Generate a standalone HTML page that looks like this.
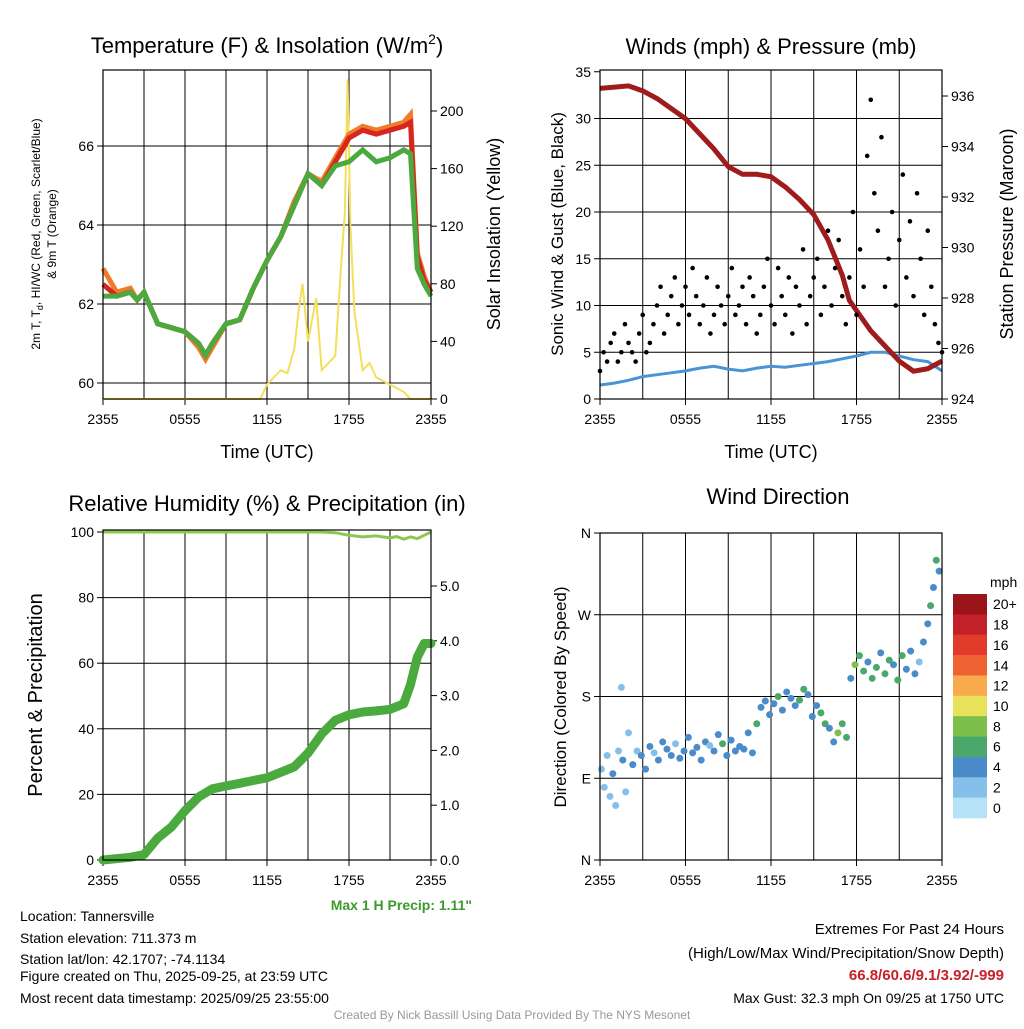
<!DOCTYPE html>
<html><head><meta charset="utf-8"><style>
body{margin:0;background:#fff}
svg text{font-family:"Liberation Sans",Arial,sans-serif;fill:#000}
</style></head><body>
<svg id="c" width="1024" height="1024" viewBox="0 0 1024 1024" xmlns="http://www.w3.org/2000/svg">
<g id="g1"></g>
<g id="g2"></g>
<g id="g3"></g>
<g id="g4"></g>
<g font-size="14">
<text x="20" y="921">Location: Tannersville</text>
<text x="20" y="943">Station elevation: 711.373 m</text>
<text x="20" y="964">Station lat/lon: 42.1707; -74.1134</text>
<text x="20" y="981">Figure created on Thu, 2025-09-25, at 23:59 UTC</text>
<text x="20" y="1003">Most recent data timestamp: 2025/09/25 23:55:00</text>
<text x="472" y="910" text-anchor="end" font-weight="bold" style="fill:#3a9a2a">Max 1 H Precip: 1.11"</text>
<text x="1004" y="934" text-anchor="end" font-size="15">Extremes For Past 24 Hours</text>
<text x="1004" y="958" text-anchor="end" font-size="15">(High/Low/Max Wind/Precipitation/Snow Depth)</text>
<text x="1004" y="980" text-anchor="end" font-size="15" font-weight="bold" style="fill:#c8202a">66.8/60.6/9.1/3.92/-999</text>
<text x="1004" y="1003" text-anchor="end">Max Gust: 32.3 mph On 09/25 at 1750 UTC</text>
<text x="512" y="1019" text-anchor="middle" font-size="12" style="fill:#999">Created By Nick Bassill Using Data Provided By The NYS Mesonet</text>
</g>
</svg>
<script>
// ---- data ----
const xTickLabels=["2355","0555","1155","1755","2355"];
const tempHours=[0,1,2,2.5,3,4,5,6,7,7.5,8,9,10,11,12,13,14,15,16,17,18,19,20,21,22,22.5,23,23.5,24];
const dewT=[62.2,62.2,62.3,62.1,62.3,61.5,61.4,61.3,61.0,60.7,61.0,61.5,61.6,62.4,63.1,63.7,64.5,65.3,65.0,65.5,65.6,65.9,65.6,65.7,65.9,65.8,62.9,62.5,62.2];
const airT=[62.5,62.2,62.3,62.1,62.3,61.5,61.4,61.3,61.0,60.7,61.0,61.5,61.6,62.4,63.1,63.7,64.5,65.3,65.0,65.6,66.2,66.4,66.3,66.4,66.5,66.6,63.2,62.6,62.3];
const t9m=[62.9,62.3,62.4,62.1,62.3,61.5,61.4,61.3,60.9,60.6,60.9,61.5,61.6,62.4,63.1,63.7,64.6,65.3,65.1,65.7,66.3,66.5,66.4,66.5,66.6,66.8,63.3,62.7,62.3];
const solarHours=[0,11.5,12,12.5,13,13.5,14,14.3,14.6,15,15.3,15.6,16,16.5,17,17.4,17.7,17.9,18.1,18.4,19,19.5,20,21,22,22.5,23,24];
const solarVals=[0,0,10,15,20,18,35,60,80,40,55,70,20,25,30,90,130,222,120,60,20,25,15,10,5,0,0,0];
const presHours=[0,2,3,4,5,6,7,8,9,10,11,12,13,14,15,16,17,17.5,18,19,20,21,22,23,24];
const presVals=[936.3,936.4,936.2,935.9,935.5,935.1,934.5,933.9,933.2,932.9,932.9,932.8,932.4,931.9,931.3,930.3,928.9,927.9,927.5,926.7,926.1,925.5,925.1,925.2,925.5];
const windHours=[0,1,2,3,4,5,6,7,8,9,10,11,12,13,14,15,16,17,18,19,20,21,22,23,24];
const windVals=[1.5,1.7,2.0,2.4,2.6,2.8,3.0,3.3,3.5,3.2,3.0,3.3,3.5,3.4,3.6,3.8,4.0,4.3,4.6,5.0,5.0,4.6,4.2,4.0,3.0];
const gustVals=[3,5,4,6,7,4,5,8,6,5,4,7,9,5,6,8,10,12,7,9,11,13,8,10,12,9,14,11,8,10,13,7,9,12,10,8,11,14,9,10,12,8,13,11,7,9,12,15,10,8,14,11,9,13,7,12,10,16,8,11,13,15,9,12,18,10,14,17,11,8,13,20,9,16,12,26,32,22,18,28,12,15,20,10,17,24,13,19,11,22,15,9,18,12,8,6,5];
const rhHours=[0,4,8,12,16,17,18,19,20,21,21.5,22,22.5,23,23.5,24];
const rhVals=[100,100,100,100,100,99.8,99,98.5,98.8,98.2,98.6,97.8,98.5,98,99,100];
const precipHours=[0,2,3,4,5,6,7,8,9,10,11,12,13,14,15,16,17,18,19,20,21,22,22.5,23,23.5,24];
const precipVals=[0,0.05,0.1,0.4,0.6,0.9,1.15,1.3,1.35,1.4,1.45,1.5,1.6,1.7,1.95,2.3,2.55,2.65,2.7,2.72,2.75,2.85,3.2,3.7,3.95,3.95];
const dirHours=[0.1,0.3,0.5,0.7,0.9,1.1,1.3,1.5,1.6,1.8,2.0,2.3,2.6,2.9,3.2,3.5,3.8,4.1,4.4,4.7,5.0,5.3,5.6,5.9,6.2,6.5,6.8,7.1,7.4,7.7,8.0,8.3,8.6,8.9,9.2,9.5,9.8,10.1,10.4,10.7,11.0,11.3,11.6,11.9,12.2,12.5,12.8,13.1,13.4,13.7,14.0,14.3,14.6,14.9,15.2,15.5,15.8,16.1,16.4,16.7,17.0,17.3,17.6,17.9,18.2,18.5,18.8,19.1,19.4,19.7,20.0,20.3,20.6,20.9,21.2,21.5,21.8,22.1,22.4,22.7,23.0,23.2,23.4,23.6,23.8];
const dirDeg=[100,80,115,70,95,60,120,190,110,75,140,105,120,115,100,125,118,110,130,122,115,128,112,120,135,118,124,110,130,126,120,138,128,115,132,120,125,122,140,118,150,168,175,160,172,180,165,185,178,170,176,188,182,158,170,162,150,145,130,140,150,135,200,215,225,208,218,200,212,228,205,220,215,198,225,210,230,205,218,240,260,280,300,330,318];
const dirSpd=[1,2,1,2,3,1,2,1,3,2,1,3,2,3,4,3,2,3,4,3,3,2,4,3,3,4,3,4,3,2,4,3,5,3,4,4,3,4,4,3,5,4,4,3,4,5,4,3,4,4,5,5,4,3,4,6,5,4,4,7,5,6,4,8,5,6,4,6,5,4,6,5,4,6,5,4,4,4,2,3,4,6,4,6,4];
// ---- helpers ----
const NS="http://www.w3.org/2000/svg";
function mk(par,tag,attrs,txt){const e=document.createElementNS(NS,tag);for(const k in attrs)e.setAttribute(k,attrs[k]);if(txt!==undefined)e.textContent=txt;par.appendChild(e);return e;}
function path(xs,ys,fx,fy){return xs.map((x,i)=>(i?'L':'M')+fx(x).toFixed(1)+','+fy(ys[i]).toFixed(1)).join('');}
function frame(g,x0,y0,x1,y1,title,tx){
  const tt=mk(g,'text',{x:tx,y:y0-16,'text-anchor':'middle','font-size':22});tt.textContent=title;
  
  
  const fx=h=>x0+(x1-x0)*h/24;
  for(let h=3;h<24;h+=3){const l=mk(g,'line',{x1:fx(h),x2:fx(h),y1:y0,y2:y1,stroke:'#000','stroke-width':1});
    
    }
  xTickLabels.forEach((s,i)=>{const x=fx(i*6);mk(g,'line',{x1:x,x2:x,y1:y1,y2:y1+6,stroke:'#000'});
    const t=mk(g,'text',{x:x,y:y1+25,'text-anchor':'middle','font-size':14},s);
    
    });
  return fx;
}
function border(g,x0,y0,x1,y1){const r=mk(g,'rect',{x:x0,y:y0,width:x1-x0,height:y1-y0,fill:'none',stroke:'#000','stroke-width':1.2});
  
  }
function ytick(g,x,y,s,left){mk(g,'line',{x1:x,x2:left?x-6:x+6,y1:y,y2:y,stroke:'#000'});
  const t=mk(g,'text',{x:left?x-9:x+9,y:y+5,'text-anchor':left?'end':'start','font-size':14},s);
  
  }
function vlabel(g,x,y,s,fs,name){const t=mk(g,'text',{x:0,y:0,transform:`translate(${x},${y}) rotate(-90)`,'text-anchor':'middle','font-size':fs},s);
  
  return t;}
function xlabel(g,x,y){const t=mk(g,'text',{x:x,y:y,'text-anchor':'middle','font-size':18},'Time (UTC)');
  
  }
// ---- panel 1 ----
{const g=document.getElementById('g1');const X0=103,Y0=70,X1=431,Y1=399;
 const fx=frame(g,X0,Y0,X1,Y1,'',267);g.querySelector('text').remove();
 const tt=mk(g,'text',{x:267,y:53,'text-anchor':'middle','font-size':22});tt.innerHTML='Temperature (F) &amp; Insolation (W/m<tspan dy="-9" font-size="14">2</tspan><tspan dy="9">)</tspan>';
 
 
 const fy=v=>383-(v-60)*39.5, fs=v=>399-v*1.44;
 [60,62,64,66].forEach(v=>{mk(g,'line',{x1:X0,x2:X1,y1:fy(v),y2:fy(v),stroke:'#000'});ytick(g,X0,fy(v),String(v),true);});
 [0,40,80,120,160,200].forEach(v=>ytick(g,X1,fs(v),String(v),false));
 let p=mk(g,'path',{d:path(solarHours,solarVals,fx,fs),fill:'none',stroke:'#f5df5a','stroke-width':2});
 
 p=mk(g,'path',{d:path(tempHours,t9m,fx,fy),fill:'none',stroke:'#f07b2a','stroke-width':5});
 
 p=mk(g,'path',{d:path(tempHours,airT,fx,fy),fill:'none',stroke:'#d7261e','stroke-width':5});
 
 p=mk(g,'path',{d:path(tempHours,dewT,fx,fy),fill:'none',stroke:'#4aaa3e','stroke-width':5});
 
 border(g,X0,Y0,X1,Y1);
 const l=vlabel(g,40,234,'',12,'left-y-axis-title');l.innerHTML='2m T, T<tspan dy="3" font-size="9">d</tspan><tspan dy="-3">, HI/WC (Red, Green, Scarlet/Blue)</tspan>';
 vlabel(g,56,234,'& 9m T (Orange)',12,'left-y-axis-title-2');
 vlabel(g,500,234,'Solar Insolation (Yellow)',18,'right-y-axis-title');
 xlabel(g,267,458);}
// ---- panel 2 ----
{const g=document.getElementById('g2');const X0=600,Y0=70,X1=942,Y1=399;
 const fx=frame(g,X0,Y0,X1,Y1,'Winds (mph) & Pressure (mb)',771);
 const fy=v=>399-v*9.35, fp=v=>399-(v-924)*25.25;
 [0,5,10,15,20,25,30,35].forEach(v=>{if(v>0&&v<35)mk(g,'line',{x1:X0,x2:X1,y1:fy(v),y2:fy(v),stroke:'#000'});ytick(g,X0,fy(v),String(v),true);});
 [924,926,928,930,932,934,936].forEach(v=>ytick(g,X1,fp(v),String(v),false));
 let p=mk(g,'path',{d:path(windHours,windVals,fx,fy),fill:'none',stroke:'#4a93d4','stroke-width':3});
 
 p=mk(g,'path',{d:path(presHours,presVals,fx,fp),fill:'none',stroke:'#a01c1c','stroke-width':5});
 
 gustVals.forEach((v,i)=>{const c=mk(g,'circle',{cx:fx(i*24/(gustVals.length-1)),cy:fy(v),r:2.3,fill:'#000'});
   });
 border(g,X0,Y0,X1,Y1);
 vlabel(g,563,234,'Sonic Wind & Gust (Blue, Black)',17,'left-y-axis-title');
 vlabel(g,1013,234,'Station Pressure (Maroon)',18,'right-y-axis-title');
 xlabel(g,771,458);}
// ---- panel 3 ----
{const g=document.getElementById('g3');const X0=103,Y0=530,X1=431,Y1=860;
 const fx=frame(g,X0,Y0,X1,Y1,'Relative Humidity (%) & Precipitation (in)',267);
 g.querySelector('text').setAttribute('y',511);
 const fy=v=>860-v*3.28, fr=v=>860-v*54.8;
 [0,20,40,60,80,100].forEach(v=>{if(v>0&&v<100)mk(g,'line',{x1:X0,x2:X1,y1:fy(v),y2:fy(v),stroke:'#000'});ytick(g,X0,fy(v),String(v),true);});
 [0,1,2,3,4,5].forEach(v=>ytick(g,X1,fr(v),v.toFixed(1),false));
 let p=mk(g,'path',{d:path(rhHours,rhVals,fx,fy),fill:'none',stroke:'#8cc850','stroke-width':3});
 
 p=mk(g,'path',{d:path(precipHours,precipVals,fx,fr),fill:'none',stroke:'#4aaa3e','stroke-width':9,'stroke-linejoin':'round','stroke-linecap':'round'});
 
 border(g,X0,Y0,X1,Y1);
 vlabel(g,42,695,'Percent & Precipitation',20,'left-y-axis-title');}
// ---- panel 4 ----
{const g=document.getElementById('g4');const X0=600,Y0=533,X1=942,Y1=860;
 const fx=frame(g,X0,Y0,X1,Y1,'Wind Direction',778);
 g.querySelector('text').setAttribute('y',504);
 const fy=v=>860-v/360*327;
 [['N',0],['E',90],['S',180],['W',270],['N',360]].forEach(([s,v])=>{if(v>0&&v<360)mk(g,'line',{x1:X0,x2:X1,y1:fy(v),y2:fy(v),stroke:'#000'});ytick(g,X0,fy(v),s,true);});
 const cols=['#b5e2f7','#86c0ea','#4a8cc9','#4aa86a','#7dbf4b','#e8e15a','#f8aa4c','#ef6232','#e03b2b','#c2212a','#9a1519'];
 const lbls=['0','2','4','6','8','10','12','14','16','18','20+'];
 dirDeg.forEach((v,i)=>{const c=mk(g,'circle',{cx:fx(dirHours[i]),cy:fy(v),r:3.5,fill:cols[Math.min(10,Math.round(dirSpd[i]/2))]});
   });
 border(g,X0,Y0,X1,Y1);
 vlabel(g,566,697,'Direction (Colored By Speed)',17,'left-y-axis-title');
 const t=mk(g,'text',{x:990,y:587,'font-size':14},'mph');
 const top=594,bh=(818-594)/11;
 for(let i=0;i<11;i++){const r=mk(g,'rect',{x:953,y:top+i*bh,width:34,height:bh+0.3,fill:cols[10-i]});
   }
 for(let i=0;i<11;i++){const tl=mk(g,'text',{x:993,y:top+i*bh+bh/2+5,'font-size':14},lbls[10-i]);
   }
}
</script>
</body></html>
